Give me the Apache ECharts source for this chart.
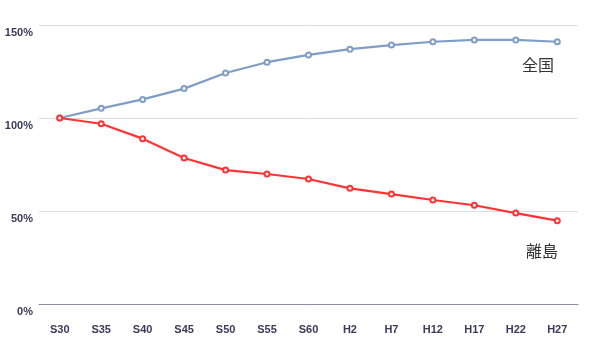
<!DOCTYPE html>
<html>
<head>
<meta charset="utf-8">
<script src="https://cdn.jsdelivr.net/npm/echarts@6/dist/echarts.min.js"></script>
<style>
  html, body { margin: 0; padding: 0; background: #fff; }
  #chart { width: 608px; height: 352px; }
</style>
</head>
<body>
<div id="chart"></div>
<script>
// 年次
var categories = ['S30','S35','S40','S45','S50','S55','S60','H2','H7','H12','H17','H22','H27'];
// 人口指数 (S30 = 100%)
var zenkoku = [100, 105.2, 110, 115.8, 124.2, 130, 133.9, 137, 139.2, 141, 142, 142, 141];
var ritou   = [100, 96.9, 88.9, 78.5, 72, 69.9, 67.2, 62.2, 59.1, 55.9, 53.1, 48.9, 44.8];
var yTicks = [0, 50, 100, 150];

var chart = echarts.init(document.getElementById('chart'));

var option = {
    animation: false,
    grid: { left: 39, right: 30, top: 25, bottom: 48 },
    xAxis: {
        type: 'category',
        data: categories,
        boundaryGap: true,
        axisLine: { lineStyle: { color: '#8c8ca6', width: 1 } },
        axisTick: { show: false },
        axisLabel: {
            margin: 20,
            color: '#3a3a5a',
            fontWeight: 'bold',
            fontSize: 11,
            fontFamily: 'Liberation Sans, Arial, sans-serif'
        }
    },
    yAxis: {
        type: 'value',
        min: yTicks[0],
        max: yTicks[yTicks.length - 1],
        interval: 50,
        axisLine: { show: false },
        axisTick: { show: false },
        splitLine: { lineStyle: { color: '#dcdce4', width: 1 } },
        axisLabel: {
            margin: 6,
            formatter: '{value}%',
            verticalAlign: 'top',
            padding: [2, 0, 0, 0],
            color: '#3a3a5a',
            fontWeight: 'bold',
            fontSize: 11,
            fontFamily: 'Liberation Sans, Arial, sans-serif'
        }
    },
    series: [
        {
            name: '全国',
            type: 'line',
            data: zenkoku,
            symbol: 'emptyCircle',
            symbolSize: 5,
            lineStyle: { color: '#7f9ec6', width: 2.2 },
            itemStyle: { color: '#7f9ec6', borderWidth: 1.5 },
            z: 2
        },
        {
            name: '離島',
            type: 'line',
            data: ritou,
            symbol: 'emptyCircle',
            symbolSize: 5,
            lineStyle: { color: '#ff3333', width: 2.2 },
            itemStyle: { color: '#ff3333', borderWidth: 1.5 },
            z: 3
        }
    ],
    graphic: [
        {
            type: 'text', left: 522, top: 57,
            style: { text: '全国', fontSize: 16, fill: '#333', fontFamily: 'Noto Sans CJK JP' }
        },
        {
            type: 'text', left: 526, top: 243,
            style: { text: '離島', fontSize: 16, fill: '#333', fontFamily: 'Noto Sans CJK JP' }
        }
    ]
};

chart.setOption(option);
</script>
</body>
</html>
